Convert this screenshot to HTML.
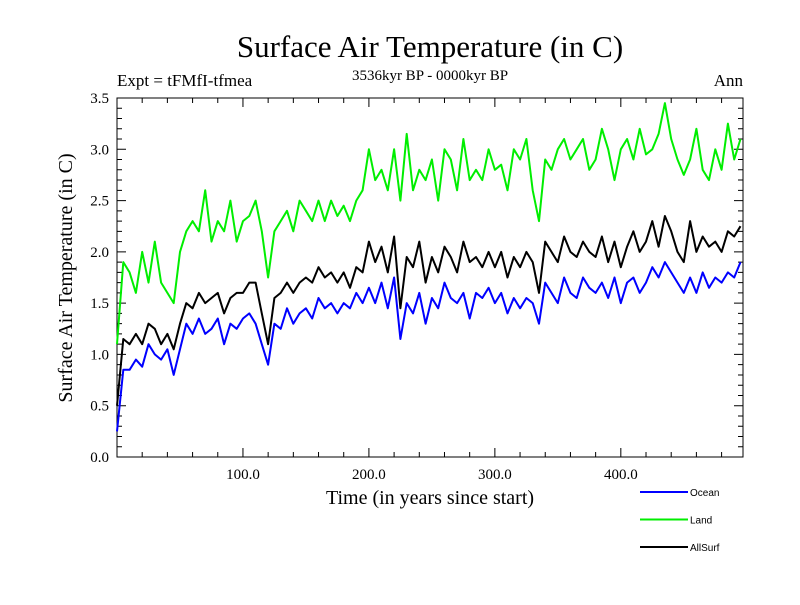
<!DOCTYPE html>
<html><head><meta charset="utf-8"><style>
body{margin:0;background:#fff}
svg text{font-family:"Liberation Serif",serif;fill:#000}
</style></head><body>
<svg id="chart" width="800" height="600" xmlns="http://www.w3.org/2000/svg">
<rect width="800" height="600" fill="#fff"/>
<text x="430" y="57" font-size="31" text-anchor="middle">Surface Air Temperature (in C)</text>
<text x="117" y="86" font-size="17">Expt = tFMfI-tfmea</text>
<text x="430" y="80" font-size="15" text-anchor="middle">3536kyr BP - 0000kyr BP</text>
<text x="743" y="86" font-size="17" text-anchor="end">Ann</text>
<text transform="translate(72,278) rotate(-90)" font-size="20" text-anchor="middle">Surface Air Temperature (in C)</text>
<text x="430" y="504" font-size="20" text-anchor="middle">Time (in years since start)</text>
<g id="axes"></g>
<g id="series"></g>
<g id="legend"></g>
</svg>
<script>
const years=[0,5,10,15,20,25,30,35,40,45,50,55,60,65,70,75,80,85,90,95,100,105,110,115,120,125,130,135,140,145,150,155,160,165,170,175,180,185,190,195,200,205,210,215,220,225,230,235,240,245,250,255,260,265,270,275,280,285,290,295,300,305,310,315,320,325,330,335,340,345,350,355,360,365,370,375,380,385,390,395,400,405,410,415,420,425,430,435,440,445,450,455,460,465,470,475,480,485,490,495];
const ocean=[0.25,0.85,0.85,0.95,0.88,1.1,1.0,0.95,1.05,0.8,1.05,1.3,1.2,1.35,1.2,1.25,1.35,1.1,1.3,1.25,1.35,1.4,1.3,1.1,0.9,1.3,1.25,1.45,1.3,1.4,1.45,1.35,1.55,1.45,1.5,1.4,1.5,1.45,1.6,1.5,1.65,1.5,1.7,1.45,1.75,1.15,1.5,1.4,1.6,1.3,1.55,1.45,1.7,1.55,1.5,1.6,1.35,1.6,1.55,1.65,1.5,1.6,1.4,1.55,1.45,1.55,1.5,1.3,1.7,1.6,1.5,1.75,1.6,1.55,1.75,1.65,1.6,1.7,1.55,1.75,1.5,1.7,1.75,1.6,1.7,1.85,1.75,1.9,1.8,1.7,1.6,1.75,1.6,1.8,1.65,1.75,1.7,1.8,1.75,1.9];
const land=[1.1,1.9,1.8,1.6,2.0,1.7,2.1,1.7,1.6,1.5,2.0,2.2,2.3,2.2,2.6,2.1,2.3,2.2,2.5,2.1,2.3,2.35,2.5,2.2,1.75,2.2,2.3,2.4,2.2,2.5,2.4,2.3,2.5,2.3,2.5,2.35,2.45,2.3,2.5,2.6,3.0,2.7,2.8,2.6,3.0,2.5,3.15,2.6,2.8,2.7,2.9,2.5,3.0,2.9,2.6,3.1,2.7,2.8,2.7,3.0,2.8,2.85,2.6,3.0,2.9,3.1,2.6,2.3,2.9,2.8,3.0,3.1,2.9,3.0,3.1,2.8,2.9,3.2,3.0,2.7,3.0,3.1,2.9,3.2,2.95,3.0,3.15,3.45,3.1,2.9,2.75,2.9,3.2,2.8,2.7,3.0,2.8,3.25,2.9,3.1];
const allsurf=[0.5,1.15,1.1,1.2,1.1,1.3,1.25,1.1,1.2,1.05,1.3,1.5,1.45,1.6,1.5,1.55,1.6,1.4,1.55,1.6,1.6,1.7,1.7,1.4,1.1,1.55,1.6,1.7,1.6,1.7,1.75,1.7,1.85,1.75,1.8,1.7,1.8,1.65,1.85,1.8,2.1,1.9,2.05,1.8,2.15,1.45,1.95,1.85,2.1,1.7,1.95,1.8,2.05,1.95,1.8,2.1,1.9,1.95,1.85,2.0,1.85,2.0,1.75,1.95,1.85,2.0,1.9,1.6,2.1,2.0,1.9,2.15,2.0,1.95,2.1,2.0,1.95,2.15,1.9,2.1,1.85,2.05,2.2,2.0,2.1,2.3,2.05,2.35,2.2,2.0,1.9,2.3,2.0,2.15,2.05,2.1,2.0,2.2,2.15,2.25];
const xTickLabels=["100.0","200.0","300.0","400.0"];
const xTickValues=[100,200,300,400];
const yTickLabels=["0.0","0.5","1.0","1.5","2.0","2.5","3.0","3.5"];
const yTickValues=[0,0.5,1,1.5,2,2.5,3,3.5];
const seriesNames=["Ocean","Land","AllSurf"];

const L=117,R=743,T=98,B=457,XMAX=497,YMAX=3.5;
const xs=v=>L+(R-L)*v/XMAX, ys=v=>B-(B-T)*v/YMAX;
const NS="http://www.w3.org/2000/svg";
function mk(tag,attrs,parent){const e=document.createElementNS(NS,tag);for(const k in attrs)e.setAttribute(k,attrs[k]);parent.appendChild(e);return e;}
const ax=document.getElementById('axes');
const frame=mk('rect',{x:L,y:T,width:R-L,height:B-T,fill:'none',stroke:'#000','stroke-width':1},ax);


let d='';
for(let v=0;v<=XMAX;v+=20){const x=xs(v),len=(v%100===0)?9:5;d+=`M${x},${B}v${-len}M${x},${T}v${len}`;}
for(let i=0;i<=35;i++){const v=i/10,y=ys(v),len=(i%5===0)?9:5;d+=`M${L},${y}h${len}M${R},${y}h${-len}`;}
const tk=mk('path',{d:d,stroke:'#000','stroke-width':1,fill:'none'},ax);


xTickValues.forEach((v,i)=>{const t=mk('text',{x:xs(v),y:B+22,'font-size':15,'text-anchor':'middle'},ax);t.textContent=xTickLabels[i];

});
yTickValues.forEach((v,i)=>{const t=mk('text',{x:L-8,y:ys(v)+5,'font-size':15,'text-anchor':'end'},ax);t.textContent=yTickLabels[i];

});
const sg=document.getElementById('series');
const colors=['#0000ff','#00ee00','#000000'];
[ocean,land,allsurf].forEach((arr,si)=>{
  const pts=arr.map((v,i)=>xs(years[i]).toFixed(1)+','+ys(v).toFixed(1)).join(' ');
  const p=mk('polyline',{points:pts,fill:'none',stroke:colors[si],'stroke-width':2,'stroke-linejoin':'round'},sg);
  
  
});
const lg=document.getElementById('legend');
seriesNames.forEach((n,i)=>{const y=492+i*27.5;
  const l=mk('line',{x1:640,x2:688,y1:y,y2:y,stroke:colors[i],'stroke-width':2},lg);
  
  
  const t=mk('text',{x:690,y:y+4,'font-size':10,style:'font-family:"Liberation Sans",sans-serif'},lg);t.textContent=n;
  
  
});
</script>
</body></html>
